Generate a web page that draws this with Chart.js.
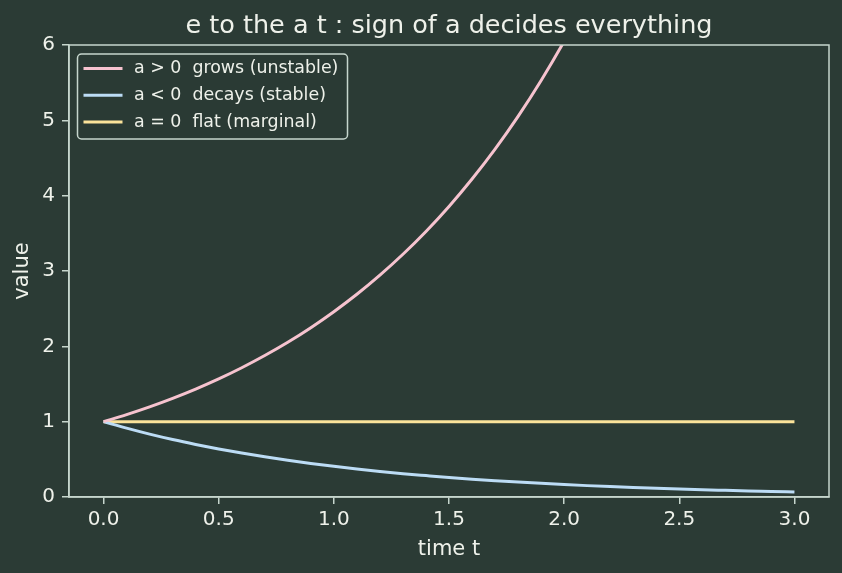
<!DOCTYPE html>
<html>
<head>
<meta charset="utf-8">
<script src="https://cdn.jsdelivr.net/npm/chart.js@4.4.1/dist/chart.umd.min.js"></script>
<style>
  html, body { margin: 0; padding: 0; background: #2b3b35; }
  #wrap { width: 842px; height: 573px; }
</style>
</head>
<body>
<div id="wrap"><canvas id="expChart" width="842" height="573"></canvas></div>
<script>
// time samples and curve values
const timeT = [0.0, 0.1, 0.2, 0.3, 0.4, 0.5, 0.6, 0.7, 0.8, 0.9, 1.0, 1.1, 1.2, 1.3, 1.4, 1.5,
               1.6, 1.7, 1.8, 1.9, 2.0, 2.1, 2.2, 2.3, 2.4, 2.5, 2.6, 2.7, 2.8, 2.9, 3.0];
const growValues = [1.000, 1.094, 1.197, 1.310, 1.433, 1.568, 1.716, 1.878, 2.054, 2.248, 2.460,
                    2.691, 2.945, 3.222, 3.525, 3.857, 4.221, 4.618, 5.053, 5.529, 6.050, 6.619,
                    7.243, 7.925, 8.671, 9.488, 10.38, 11.36, 12.43, 13.60, 14.88];
const decayValues = [1.000, 0.914, 0.835, 0.763, 0.698, 0.638, 0.583, 0.533, 0.487, 0.445, 0.407,
                     0.372, 0.340, 0.310, 0.284, 0.259, 0.237, 0.217, 0.198, 0.181, 0.165, 0.151,
                     0.138, 0.126, 0.115, 0.105, 0.096, 0.088, 0.080, 0.074, 0.067];
const flatValues = [1, 1, 1, 1, 1, 1, 1, 1, 1, 1, 1, 1, 1, 1, 1, 1,
                    1, 1, 1, 1, 1, 1, 1, 1, 1, 1, 1, 1, 1, 1, 1];
const seriesLabels = ['a > 0  grows (unstable)', 'a < 0  decays (stable)', 'a = 0  flat (marginal)'];
const chartTitle = 'e to the a t : sign of a decides everything';
const xTicks = [0.0, 0.5, 1.0, 1.5, 2.0, 2.5, 3.0];
const yTicks = [0, 1, 2, 3, 4, 5, 6];

const SPINE = '#c6d6cd';
const TEXT = '#eef1ea';
const FONT = "'DejaVu Sans', sans-serif";

const toPoints = (vals) => vals.map((v, i) => ({ x: timeT[i], y: v }));

// title centred over the plot, frame on all four sides, legend inside top-left
const frameAndLegend = {
    id: 'frameAndLegend',
    afterDraw(chart) {
        const { ctx, chartArea: a } = chart;
        ctx.save();
        ctx.fillStyle = TEXT;
        ctx.font = '25.5px ' + FONT;
        ctx.textAlign = 'center';
        ctx.textBaseline = 'alphabetic';
        ctx.fillText(chartTitle, (a.left + a.right) / 2, 33);

        ctx.strokeStyle = SPINE;
        ctx.lineWidth = 1.5;
        ctx.strokeRect(a.left, a.top, a.right - a.left, a.bottom - a.top);

        const bx = a.left + 8.5, by = a.top + 9, bw = 270, bh = 85;
        ctx.beginPath();
        ctx.roundRect(bx, by, bw, bh, 4);
        ctx.fillStyle = 'rgba(43,59,53,0.8)';
        ctx.fill();
        ctx.lineWidth = 1.5;
        ctx.strokeStyle = SPINE;
        ctx.stroke();

        ctx.font = '17.4px ' + FONT;
        ctx.textAlign = 'left';
        ctx.textBaseline = 'middle';
        chart.data.datasets.forEach((ds, i) => {
            const y = by + 14.5 + i * 26.8;
            ctx.beginPath();
            ctx.strokeStyle = ds.borderColor;
            ctx.lineWidth = 3;
            ctx.moveTo(bx + 6, y);
            ctx.lineTo(bx + 45, y);
            ctx.stroke();
            ctx.fillStyle = TEXT;
            ctx.fillText(ds.label, bx + 56.5, y);
        });
        ctx.restore();
    }
};

new Chart(document.getElementById('expChart'), {
    type: 'line',
    data: {
        datasets: [
            { label: seriesLabels[0], data: toPoints(growValues), borderColor: '#f6c3cf' },
            { label: seriesLabels[1], data: toPoints(decayValues), borderColor: '#bcdcf5' },
            { label: seriesLabels[2], data: toPoints(flatValues), borderColor: '#fbe39a' }
        ]
    },
    options: {
        responsive: false,
        animation: false,
        events: [],
        layout: { padding: { left: 0, right: 13, top: 45, bottom: 0 } },
        datasets: {
            line: {
                borderWidth: 3,
                pointRadius: 0,
                tension: 0.3,
                cubicInterpolationMode: 'monotone',
                clip: 0,
                fill: false
            }
        },
        plugins: {
            legend: { display: false },
            tooltip: { enabled: false },
            title: { display: false }
        },
        scales: {
            x: {
                type: 'linear',
                min: -0.15,
                max: 3.15,
                afterBuildTicks: (s) => { s.ticks = xTicks.map(v => ({ value: v })); },
                afterFit: (s) => { s.height = 76; },
                ticks: {
                    color: TEXT,
                    font: { family: FONT, size: 20 },
                    padding: 4,
                    maxRotation: 0,
                    callback: (v) => Number(v).toFixed(1)
                },
                grid: { drawOnChartArea: false, drawTicks: true, tickLength: 7, color: SPINE, lineWidth: 1.5 },
                border: { display: true, color: SPINE, width: 1.5 },
                title: {
                    display: true,
                    text: 'time t',
                    color: TEXT,
                    font: { family: FONT, size: 21 },
                    padding: { top: 2, bottom: 11 }
                }
            },
            y: {
                type: 'linear',
                min: 0,
                max: 6,
                afterBuildTicks: (s) => { s.ticks = yTicks.map(v => ({ value: v })); },
                afterFit: (s) => { s.width = 69; },
                ticks: {
                    color: TEXT,
                    font: { family: FONT, size: 20 },
                    padding: 7
                },
                grid: { drawOnChartArea: false, drawTicks: true, tickLength: 7, color: SPINE, lineWidth: 1.5 },
                border: { display: true, color: SPINE, width: 1.5 },
                title: {
                    display: true,
                    text: 'value',
                    color: TEXT,
                    font: { family: FONT, size: 21 },
                    padding: { top: 10, bottom: 0 }
                }
            }
        }
    },
    plugins: [frameAndLegend]
});
</script>
</body>
</html>
